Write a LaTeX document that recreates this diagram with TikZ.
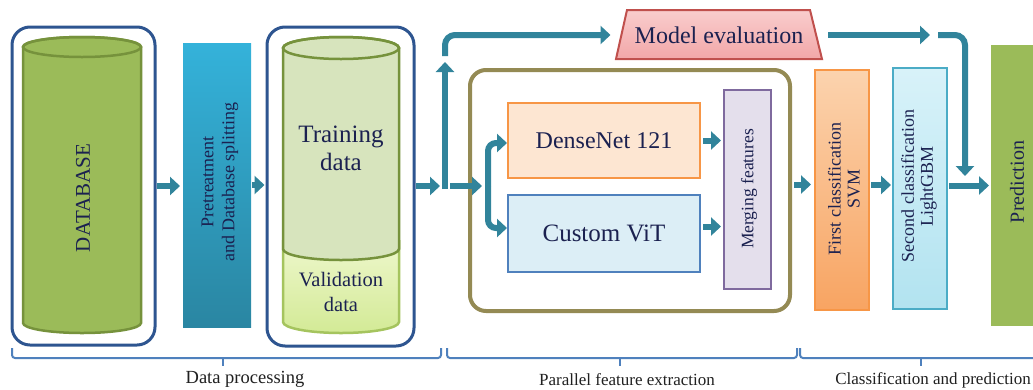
\documentclass[tikz,border=0pt]{standalone}
\usepackage{fontspec}
\setmainfont{Liberation Serif}
\usetikzlibrary{arrows.meta}
\definecolor{teal1}{HTML}{31849B}
\definecolor{navy}{HTML}{1B2150}
\definecolor{frameblue}{HTML}{2E5590}
\definecolor{dbgreen}{HTML}{9BBB59}
\definecolor{dbedge}{HTML}{76923C}
\definecolor{trfill}{HTML}{D7E4BD}
\definecolor{valtop}{HTML}{EEF7CC}
\definecolor{valbot}{HTML}{D3EA96}
\definecolor{valedge}{HTML}{A5C45E}
\definecolor{olivec}{HTML}{948A54}
\definecolor{bracecol}{HTML}{4F81BD}
\definecolor{pretop}{HTML}{34B2DA}
\definecolor{prebot}{HTML}{2A86A2}
\definecolor{dnfill}{HTML}{FDE6D2}
\definecolor{dnedge}{HTML}{F79646}
\definecolor{vitfill}{HTML}{DCEEF6}
\definecolor{vitedge}{HTML}{4F81BD}
\definecolor{mffill}{HTML}{E4DFEC}
\definecolor{mfedge}{HTML}{7F6A9E}
\definecolor{metop}{HTML}{F9CDCD}
\definecolor{mebot}{HTML}{F2A7A8}
\definecolor{meedge}{HTML}{C0504D}
\definecolor{fctop}{HTML}{FBD3AE}
\definecolor{fcbot}{HTML}{F8A462}
\definecolor{sctop}{HTML}{D8F2F9}
\definecolor{scbot}{HTML}{B2E3F0}
\definecolor{scedge}{HTML}{4BACC6}
\definecolor{prgreen}{HTML}{9BBB59}
\definecolor{labcol}{HTML}{202020}
\newcommand{\fsz}[2]{\fontsize{#1}{#2}\selectfont}
\begin{document}
\begin{tikzpicture}[x=1pt,y=-1pt,
  arr/.style={draw=teal1, line width=6pt, -{Triangle[length=10pt,width=18pt]}},
  framebox/.style={draw=frameblue, line width=3pt, rounded corners=18pt, inner sep=0pt},
  plainbox/.style={inner sep=0pt, line width=2pt, text=navy},
  lbl/.style={inner sep=0pt, text=navy},
  bracestyle/.style={draw=bracecol, line width=2pt, rounded corners=3pt},
  bracelbl/.style={inner sep=0pt, text=labcol, font=\fsz{17}{20}}]
\useasboundingbox (0,0) rectangle (1033,389);
\clip (0,0) rectangle (1033,389);
\fill[white] (0,0) rectangle (1033,389);

% ---------- Data processing ----------
\node[framebox, minimum width=143pt, minimum height=318pt] (dbo) at (83.5,186) {};
\path[fill=dbgreen, draw=dbedge, line width=2.5pt]
  (23,47) -- (23,323) arc[start angle=180, end angle=360, x radius=59pt, y radius=10pt]
  -- (141,47) arc[start angle=0, end angle=180, x radius=59pt, y radius=10pt] -- cycle;
\draw[dbedge, line width=2.5pt] (82,47) ellipse [x radius=59pt, y radius=10pt];
\node[lbl, rotate=90, font=\fsz{21}{24}] (dbt) at (83,198) {DATABASE};

\node[plainbox, top color=pretop, bottom color=prebot, minimum width=68pt, minimum height=284pt] (pre) at (217,185) {};
\node[lbl, rotate=90, align=center, font=\fsz{18}{21}] (pret) at (220,182) {Pretreatment\\and Database splitting};

\node[framebox, minimum width=147pt, minimum height=319pt] (tro) at (340.5,186.5) {};
\path[top color=valtop, bottom color=valbot, draw=valedge, line width=2.5pt]
  (283,240) -- (283,322) arc[start angle=180, end angle=360, x radius=58pt, y radius=11pt]
  -- (399,240);
\path[fill=trfill, draw=dbedge, line width=2.5pt]
  (283,48) -- (283,249) arc[start angle=180, end angle=360, x radius=58pt, y radius=11pt]
  -- (399,48) arc[start angle=0, end angle=180, x radius=58pt, y radius=11pt] -- cycle;
\draw[dbedge, line width=2.5pt] (341,48) ellipse [x radius=58pt, y radius=11pt];
\node[lbl, align=center, font=\fsz{25}{28}] (trt) at (341,148) {Training\\data};
\node[lbl, align=center, font=\fsz{20.5}{25}] (vat) at (341,292) {Validation\\data};

\draw[arr, shorten >=2pt] (dbo.east) -- (dbo.east -| pre.west);
\draw[arr, shorten >=1pt] (pre.east) -- (pre.east -| tro.west);

% ---------- junction and model evaluation ----------
\coordinate (j) at (445,186);
\coordinate (ju1) at (445,62);
\coordinate (ju2) at (445,56);
\draw[arr, shorten >=5pt] (tro.east |- j) -- (j);
\draw[arr] ([yshift=-3pt]j) -- (ju1);

\path[draw=meedge, line width=2pt, top color=metop, bottom color=mebot]
  (627,10) -- (810,10) -- (822,59) -- (616,59) -- cycle;
\node[lbl, font=\fsz{24}{28}] (me) at (719,35) {Model evaluation};
\coordinate (mew) at (621.5,35);
\coordinate (mee) at (816,35);
\draw[arr, rounded corners=10pt, shorten >=11pt] (ju2) |- (mew);

\coordinate (k1) at (930,35);
\coordinate (k2) at (938,35);
\coordinate (k3) at (965,176);
\draw[arr, shorten <=12pt] (mee) -- (k1);
\draw[arr, rounded corners=10pt] (k2) -| (k3);

% ---------- parallel feature extraction ----------
\node[draw=olivec, line width=4pt, rounded corners=16pt, inner sep=0pt,
      minimum width=320pt, minimum height=241pt] (ol) at (630,190.5) {};
\node[plainbox, fill=dnfill, draw=dnedge, minimum width=192pt, minimum height=75pt,
      font=\fsz{24}{28}] (dn) at (604,140.5) {DenseNet 121};
\node[plainbox, fill=vitfill, draw=vitedge, minimum width=192pt, minimum height=77pt,
      font=\fsz{25}{28}] (vit) at (604,233.5) {Custom ViT};
\node[plainbox, fill=mffill, draw=mfedge, minimum width=47pt, minimum height=199pt] (mf) at (747.5,189.5) {};
\node[lbl, rotate=90, font=\fsz{17.5}{20}] (mft) at (749,189) {Merging features};

\coordinate (s) at (488,186);
\draw[arr] ([xshift=5pt]j) -- ([xshift=-6pt]s);
\draw[arr, rounded corners=8pt] (s) |- ([yshift=-2.5pt]dn.west);
\draw[arr, rounded corners=8pt] (s) |- ([yshift=5.5pt]vit.west);
\draw[arr, shorten <=2pt, shorten >=2pt] (dn.east) -- (dn.east -| mf.west);
\draw[arr, shorten <=2pt, shorten >=2pt] ([yshift=7pt]vit.east) -- ([yshift=7pt]vit.east -| mf.west);

% ---------- classification and prediction ----------
\node[plainbox, top color=fctop, bottom color=fcbot, draw=dnedge, minimum width=54pt, minimum height=240pt] (fc) at (842,190) {};
\node[lbl, rotate=90, align=center, font=\fsz{18}{19}] (fct) at (844,189) {First classification\\SVM};
\node[plainbox, top color=sctop, bottom color=scbot, draw=scedge, minimum width=54pt, minimum height=241pt] (sc) at (920,188.5) {};
\node[lbl, rotate=90, align=center, font=\fsz{18}{19}] (sct) at (919,186) {Second classification\\LightGBM};
\node[plainbox, fill=prgreen, minimum width=54pt, minimum height=281pt] (pr) at (1018,185.5) {};
\node[lbl, rotate=90, font=\fsz{20}{22}] (prt) at (1017,182) {Prediction};

\draw[arr, shorten <=2pt, shorten >=3pt] ([yshift=6pt]ol.east) -- ([yshift=6pt]ol.east -| fc.west);
\draw[arr, shorten <=1pt, shorten >=1pt] ([yshift=5pt]fc.east) -- ([yshift=5pt]fc.east -| sc.west);
\draw[arr, shorten <=1pt, shorten >=1pt] ([yshift=3pt]sc.east) -- ([yshift=3pt]sc.east -| pr.west);

% ---------- braces ----------
\draw[bracestyle] (12,348) -- (12,358) -- (441,358) -- (441,348);
\draw[bracestyle] (223,358) -- (223,366);
\node[bracelbl, font=\fsz{18.5}{20}] (l1) at (245,379) {Data processing};
\draw[bracestyle] (447,348) -- (447,358) -- (797,358) -- (797,348);
\draw[bracestyle] (620,358) -- (620,366);
\node[bracelbl] (l2) at (627,380) {Parallel feature extraction};
\draw[bracestyle] (800,348) -- (800,358) -- (1045,358);
\draw[bracestyle] (921,358) -- (921,366);
\node[bracelbl] (l3) at (933,380) {Classification and prediction};
\end{tikzpicture}
\end{document}
